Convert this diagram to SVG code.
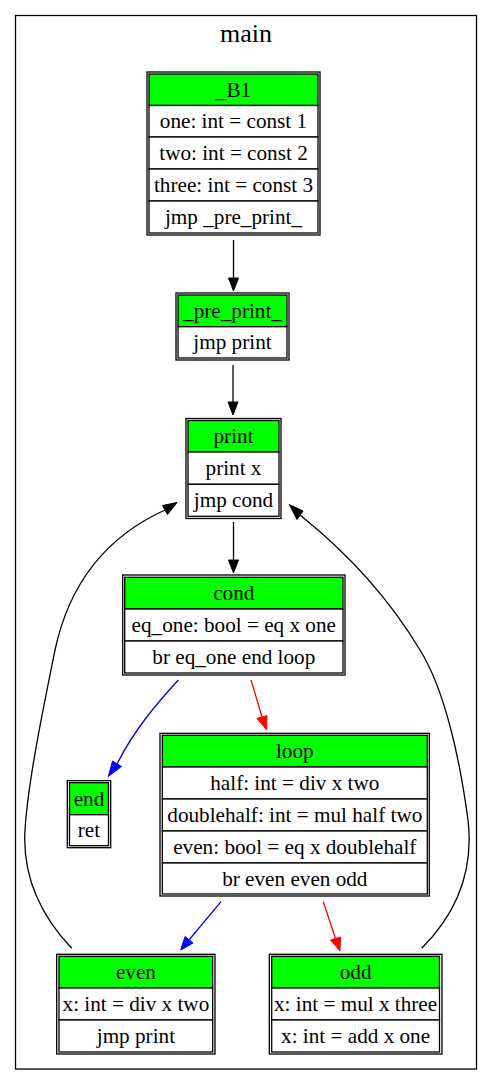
<svg xmlns="http://www.w3.org/2000/svg" width="493" height="1085" viewBox="0 0 493 1085">
<defs>
<style>
text{font-family:"Liberation Serif","Times New Roman",serif;font-size:21.2px;text-anchor:middle;fill:#000}
.outer{fill:none;stroke:#000;stroke-width:1.3}
.cell{fill:#fff;stroke:#000;stroke-width:1.3}
.hd{fill:#00ff00;stroke:#000;stroke-width:1.3}
.e{fill:none;stroke-width:1.3}
</style>
</defs>
<rect width="493" height="1085" fill="#fff"/>
<g id="cluster_main">
<rect x="15.5" y="15.5" width="461" height="1053.5" fill="none" stroke="#000" stroke-width="1.3"/>
<text x="246" y="42" style="font-size:26px">main</text>
</g>
<g id="connectors">
<g stroke="#000" fill="#000">
<path class="e" d="M233.5,240 L233.5,278"/><polygon points="228.5,278 238.5,278 233.5,291"/>
<path class="e" d="M233,365 L233,402"/><polygon points="228,402 238,402 233,415"/>
<path class="e" d="M233.5,522 L233.5,560"/><polygon points="228.5,560 238.5,560 233.5,573"/>
<path class="e" d="M71.7,948.3 C45,920 22,880 25,830 C28,780 45,700 55,650 C70,580 110,535 165,510"/>
<polygon points="162.5,505.5 167.5,514.5 177,502.5"/>
<path class="e" d="M421.7,948.3 C450,920 475,880 468,820 C460,760 445,690 420,650 C390,600 350,555 300,515"/>
<polygon points="297,519.5 303,511 289.3,504.5"/>
</g>
<g stroke="#0000ff" fill="#0000ff">
<path class="e" d="M178.3,680 C160,700 135,728 117,764"/><polygon points="112.5,761 121.5,766.5 108.3,776.5"/>
<path class="e" d="M221,901.7 L189,940"/><polygon points="185,936.5 193,943 180.7,950"/>
</g>
<g stroke="#ff0000" fill="#ff0000">
<path class="e" d="M251,680 L262,717"/><polygon points="257,718.5 267,715.5 266.7,730"/>
<path class="e" d="M323.3,901.7 L335.5,938.5"/><polygon points="330.5,940 340.5,937 340,951"/>
</g>
</g>
<g id="_B1">
<rect class="outer" x="147" y="72" width="173" height="163"/>
<rect class="hd" x="149" y="74" width="169" height="31.5"/>
<rect class="cell" x="149" y="105.5" width="169" height="31.5"/>
<rect class="cell" x="149" y="137" width="169" height="32"/>
<rect class="cell" x="149" y="169" width="169" height="32"/>
<rect class="cell" x="149" y="201" width="169" height="32"/>
<text x="233.5" y="96.5">_B1</text>
<text x="233.5" y="128">one: int = const 1</text>
<text x="233.5" y="160">two: int = const 2</text>
<text x="233.5" y="192">three: int = const 3</text>
<text x="233.5" y="224">jmp _pre_print_</text>
</g>
<g id="_pre_print_">
<rect class="outer" x="176" y="293" width="113" height="67"/>
<rect class="hd" x="178" y="295" width="109" height="31.7"/>
<rect class="cell" x="178" y="326.7" width="109" height="31.3"/>
<text x="232.5" y="317.5">_pre_print_</text>
<text x="232.5" y="349">jmp print</text>
</g>
<g id="print">
<rect class="outer" x="186" y="418.5" width="95" height="100"/>
<rect class="hd" x="188" y="420.5" width="91" height="31.5"/>
<rect class="cell" x="188" y="452" width="91" height="32.3"/>
<rect class="cell" x="188" y="484.3" width="91" height="32"/>
<text x="233.5" y="443">print</text>
<text x="233.5" y="475">print x</text>
<text x="233.5" y="507">jmp cond</text>
</g>
<g id="cond">
<rect class="outer" x="122.7" y="575" width="222.3" height="100"/>
<rect class="hd" x="124.7" y="577.3" width="218.3" height="31.7"/>
<rect class="cell" x="124.7" y="609" width="218.3" height="32"/>
<rect class="cell" x="124.7" y="641" width="218.3" height="32"/>
<text x="233.8" y="600">cond</text>
<text x="233.8" y="632">eq_one: bool = eq x one</text>
<text x="233.8" y="664">br eq_one end loop</text>
</g>
<g id="end">
<rect class="outer" x="67.3" y="780.7" width="43.4" height="67"/>
<rect class="hd" x="69.5" y="782.7" width="39" height="32"/>
<rect class="cell" x="69.5" y="814.7" width="39" height="31"/>
<text x="89" y="805.5">end</text>
<text x="89" y="837">ret</text>
</g>
<g id="loop">
<rect class="outer" x="160" y="733.3" width="269.3" height="162.7"/>
<rect class="hd" x="162.3" y="735.3" width="265" height="31.7"/>
<rect class="cell" x="162.3" y="767" width="265" height="32"/>
<rect class="cell" x="162.3" y="799" width="265" height="32"/>
<rect class="cell" x="162.3" y="831" width="265" height="32"/>
<rect class="cell" x="162.3" y="863" width="265" height="31"/>
<text x="294.8" y="758">loop</text>
<text x="294.8" y="790">half: int = div x two</text>
<text x="294.8" y="822">doublehalf: int = mul half two</text>
<text x="294.8" y="854">even: bool = eq x doublehalf</text>
<text x="294.8" y="885.5">br even even odd</text>
</g>
<g id="even">
<rect class="outer" x="56.7" y="954.3" width="158.3" height="99.7"/>
<rect class="hd" x="59" y="956.3" width="153.7" height="31.7"/>
<rect class="cell" x="59" y="988" width="153.7" height="32"/>
<rect class="cell" x="59" y="1020" width="153.7" height="32"/>
<text x="135.9" y="979">even</text>
<text x="135.9" y="1011">x: int = div x two</text>
<text x="135.9" y="1043">jmp print</text>
</g>
<g id="odd">
<rect class="outer" x="269.3" y="954.3" width="172.7" height="99.7"/>
<rect class="hd" x="271.7" y="956.3" width="167.8" height="31.7"/>
<rect class="cell" x="271.7" y="988" width="167.8" height="32"/>
<rect class="cell" x="271.7" y="1020" width="167.8" height="32"/>
<text x="355.6" y="979">odd</text>
<text x="355.6" y="1011">x: int = mul x three</text>
<text x="355.6" y="1043">x: int = add x one</text>
</g>
</svg>
